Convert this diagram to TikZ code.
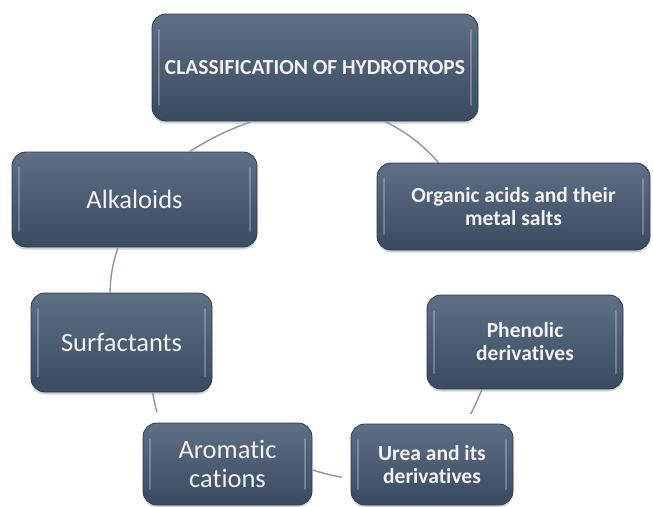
\documentclass[tikz,border=0pt]{standalone}
\usepackage{fontspec}
\setmainfont{Carlito}[Ligatures=NoCommon]
\usetikzlibrary{positioning, shadows}
\definecolor{boxtop}{HTML}{5E6F86}
\definecolor{boxbot}{HTML}{3A4A60}
\definecolor{boxrim}{HTML}{2C3A4C}
\definecolor{linkcol}{HTML}{8796AC}
\definecolor{txtcol}{HTML}{F2F2F2}

\begin{document}
\begin{tikzpicture}[x=1pt, y=-1pt,
   hbox/.style={rounded corners=14pt, top color=boxtop, bottom color=boxbot,
      draw=boxrim, line width=.8pt, text=txtcol, align=center, inner sep=0pt,
      drop shadow={shadow xshift=0pt, shadow yshift=-2.5pt, opacity=.35},
      path picture={
        \draw[white, opacity=.25, line width=2pt, line cap=round]
          ([xshift=7pt,yshift=-16pt]path picture bounding box.north west) --
          ([xshift=7pt,yshift=16pt]path picture bounding box.south west);
        \draw[white, opacity=.25, line width=2pt, line cap=round]
          ([xshift=-7pt,yshift=-16pt]path picture bounding box.north east) --
          ([xshift=-7pt,yshift=16pt]path picture bounding box.south east);}},
   plain/.style={font=\fontsize{26.5}{29}\selectfont},
   heavy/.style={font=\bfseries\fontsize{21.5}{23}\selectfont},
   link/.style={draw=linkcol, line width=1.4pt}]
\useasboundingbox (0,0) rectangle (653,506);

% boxes of the cycle
\node[hbox, heavy, minimum width=326pt, minimum height=107pt] (title) at (315,67.5) {CLASSIFICATION OF HYDROTROPS};
\node[hbox, plain, minimum width=245pt, minimum height=95pt] (alk) at (134.5,199.5) {Alkaloids};
\node[hbox, heavy, minimum width=273pt, minimum height=87pt] (org) at (513.5,206.5) {Organic acids and their\\metal salts};
\node[hbox, plain, minimum width=181pt, minimum height=99pt] (surf) at (121.5,342.5) {Surfactants};
\node[hbox, heavy, minimum width=196pt, minimum height=94pt] (phen) at (525,342) {Phenolic\\derivatives};
\node[hbox, plain, minimum width=169pt, minimum height=82pt] (arom) at (227.5,464) {Aromatic\\cations};
\node[hbox, heavy, minimum width=162pt, minimum height=81pt] (urea) at (432,464.5) {Urea and its\\derivatives};

% connectors
\draw[link] ([xshift=-63pt]title.south) to[bend right=6] ([xshift=55pt]alk.north);
\draw[link] ([xshift=70pt]title.south) to[bend left=10] ([xshift=-75pt]org.north);
\draw[link] ([xshift=-16.5pt]alk.south) to[bend right=8] ([xshift=-11.5pt]surf.north);
\draw[link, shorten >=11pt] ([xshift=31pt]surf.south) to[bend right=4] ([xshift=-67pt]arom.north);
\draw[link, shorten >=9pt] ([yshift=-6pt]arom.east) to[bend right=4] ([yshift=-14pt]urea.west);
\draw[link, shorten <=11pt] ([xshift=33pt]urea.north) to[bend right=4] ([xshift=-43pt]phen.south);
\end{tikzpicture}
\end{document}
